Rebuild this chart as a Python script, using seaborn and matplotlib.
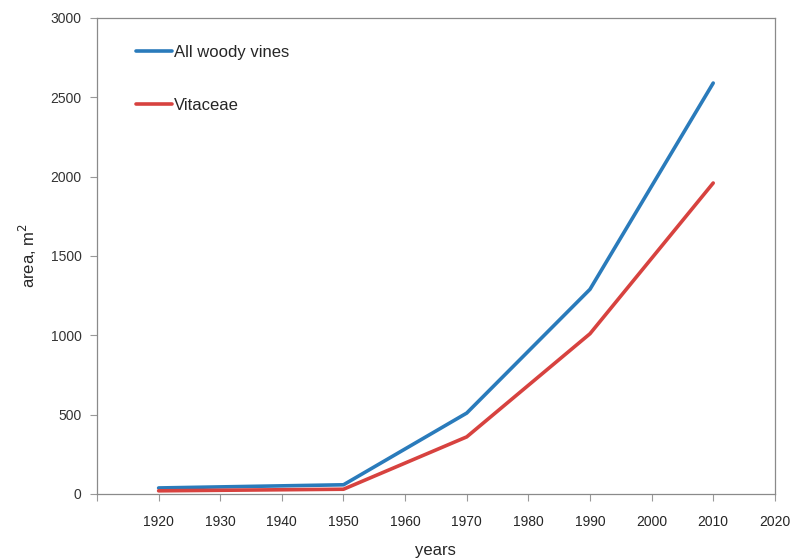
import pandas as pd
import seaborn as sns
import matplotlib.pyplot as plt

# data
years = [1920, 1950, 1970, 1990, 2010]
all_woody_vines = [38, 58, 510, 1290, 2590]
vitaceae = [20, 30, 360, 1010, 1960]

df = pd.DataFrame({
    'years': years * 2,
    'area': all_woody_vines + vitaceae,
    'group': ['All woody vines'] * len(years) + ['Vitaceae'] * len(years),
})

sns.set_style('white')
plt.rcParams['font.family'] = ['Liberation Sans', 'DejaVu Sans']

fig = plt.figure(figsize=(7.9, 5.59), dpi=100)
ax = fig.add_axes([0.1228, 0.1163, 0.858, 0.8515])

sns.lineplot(
    data=df, x='years', y='area', hue='group',
    palette=['#2a7bbb', '#d7423f'], linewidth=2.6, ax=ax,
)

ax.set_xlim(1910, 2020)
ax.set_ylim(0, 3000)
ax.set_xticks(range(1910, 2021, 10))
ax.set_xticklabels([''] + [str(y) for y in range(1920, 2021, 10)], fontsize=10)
ax.set_yticks(range(0, 3001, 500))
ax.set_yticklabels([str(v) for v in range(0, 3001, 500)], fontsize=10, color='#333333')
ax.tick_params(axis='x', which='major', direction='out', length=5, pad=10,
               color='#999999', bottom=True, width=0.8)
ax.tick_params(axis='y', which='major', direction='out', length=5, pad=6,
               color='#999999', left=True, width=0.8)

for s in ax.spines.values():
    s.set_color('#8a8a8a')
    s.set_linewidth(0.9)

ax.set_xlabel('years', fontsize=12, labelpad=10)
ax.set_ylabel('area, m$^2$', fontsize=12, labelpad=8)

leg = ax.legend(loc='upper left', bbox_to_anchor=(0.035, 0.975), frameon=False,
                fontsize=12, handlelength=2.2, handletextpad=0.1, labelspacing=2.3,
                title=None)

fig.savefig('out.png', dpi=100)
